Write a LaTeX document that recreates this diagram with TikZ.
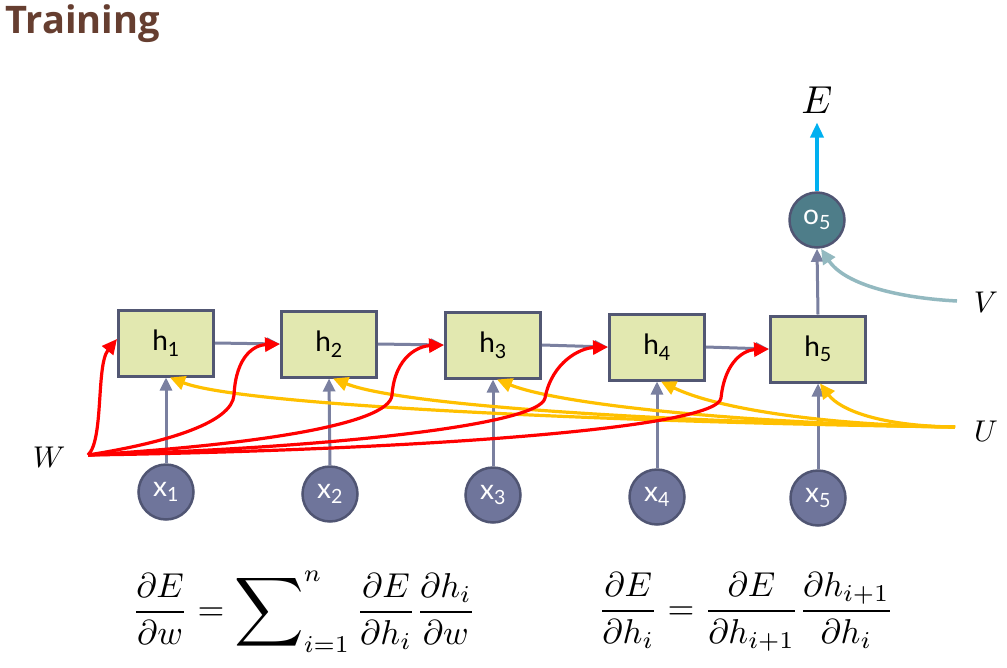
\documentclass[tikz,border=0pt]{standalone}
\usepackage{fontspec}
\usepackage{amsmath}
\usepackage{graphicx}
\setsansfont{Lato}
\newfontfamily\titlefont{Open Sans}
\usetikzlibrary{arrows.meta}
\definecolor{boxfill}{RGB}{226,232,176}
\definecolor{boxline}{RGB}{82,87,115}
\definecolor{circfill}{RGB}{111,117,155}
\definecolor{circline}{RGB}{80,85,115}
\definecolor{ofill}{RGB}{78,125,137}
\definecolor{grayarr}{RGB}{122,128,160}
\definecolor{redarr}{RGB}{255,0,0}
\definecolor{yelarr}{RGB}{255,192,0}
\definecolor{bluearr}{RGB}{0,176,240}
\definecolor{varr}{RGB}{147,185,192}
\definecolor{titlebrown}{RGB}{102,62,48}
\begin{document}
\begin{tikzpicture}[x=1pt,y=-1pt,
  hbox/.style={draw=boxline,fill=boxfill,line width=3pt,minimum width=95pt,minimum height=66pt,inner sep=0pt,font=\sffamily\fontsize{28}{32}\selectfont},
  xcirc/.style={circle,draw=circline,fill=circfill,line width=2.5pt,minimum size=55pt,inner sep=0pt,text=white,font=\sffamily\fontsize{28}{32}\selectfont},
  ocirc/.style={xcirc,fill=ofill},
  grayarrow/.style={draw=grayarr,line width=3pt,-{Triangle[length=13pt,width=12pt]}},
  redarrow/.style={draw=redarr,line width=3.2pt,-{Triangle[length=15pt,width=14pt]}},
  yelarrow/.style={draw=yelarr,line width=3.2pt,-{Triangle[length=15pt,width=14pt]}},
  bluearrow/.style={draw=bluearr,line width=3.5pt,-{Triangle[length=15pt,width=13pt]}},
  varrow/.style={draw=varr,line width=3.5pt,-{Triangle[length=15pt,width=14pt]}}
]
\useasboundingbox (0,0) rectangle (1007,667);

\node[anchor=west,text=titlebrown,font=\titlefont\bfseries\fontsize{38}{44}\selectfont] (title) at (2,24) {Training};

% hidden boxes
\node[hbox] (h1) at (166,343) {h\textsubscript{1}};
\node[hbox] (h2) at (329,344) {h\textsubscript{2}};
\node[hbox] (h3) at (493,345) {h\textsubscript{3}};
\node[hbox] (h4) at (657,347) {h\textsubscript{4}};
\node[hbox] (h5) at (818,349) {h\textsubscript{5}};

% inputs
\node[xcirc] (x1) at (166,492) {x\textsubscript{1}};
\node[xcirc] (x2) at (330,494) {x\textsubscript{2}};
\node[xcirc] (x3) at (493,495) {x\textsubscript{3}};
\node[xcirc] (x4) at (657,497) {x\textsubscript{4}};
\node[xcirc] (x5) at (818,498) {x\textsubscript{5}};

% output
\node[ocirc] (o5) at (817,220) {o\textsubscript{5}};
\node[inner sep=0pt] (E) at (817,100) {\scalebox{3.9}{$E$}};

% labels
\node[inner sep=0pt] (W) at (49,457) {\scalebox{3}{$W$}};
\node[inner sep=0pt] (U) at (986,431) {\scalebox{3}{$U$}};
\node[inner sep=0pt] (V) at (986,302) {\scalebox{3}{$V$}};
\coordinate (Wp) at (88,455);
\coordinate (Up) at (955,427);
\coordinate (Vp) at (957,301);

% gray arrows
\foreach \i/\j in {1/2,2/3,3/4,4/5} {
  \draw[grayarrow] (h\i.east) -- (h\j.west);
}
\foreach \i in {1,...,5} {
  \draw[grayarrow] (x\i.north) -- (h\i.south);
}
\draw[grayarrow] (h5.north) -- (o5.south);

% E arrow
\draw[bluearrow] (o5.north) -- ([yshift=-9pt]E.south);

% V arrow
\draw[varrow] (Vp) .. controls (900,298) and (845,285) .. ([xshift=4pt]o5.south);

% U arrows
\draw[yelarrow] (Up) .. controls (600,422) and (240,405) .. ([xshift=4pt]h1.south);
\draw[yelarrow] (Up) .. controls (650,422) and (400,405) .. ([xshift=4pt]h2.south);
\draw[yelarrow] (Up) .. controls (750,424) and (560,405) .. ([xshift=4pt]h3.south);
\draw[yelarrow] (Up) .. controls (820,425) and (715,408) .. ([xshift=4pt]h4.south);
\draw[yelarrow] (Up) .. controls (880,426) and (840,410) .. ([xshift=2pt]h5.south);

% W arrows
\draw[redarrow] (Wp) .. controls (104,440) and (96,365) .. ([yshift=4pt]h1.west);
\draw[redarrow] (Wp) .. controls (170,442) and (232,422) .. (234,395) .. controls (236,355) and (255,345) .. (h2.west);
\draw[redarrow] (Wp) .. controls (250,445) and (390,425) .. (392,395) .. controls (395,355) and (420,346) .. (h3.west);
\draw[redarrow] (Wp) .. controls (330,448) and (540,425) .. (545,398) .. controls (552,362) and (580,348) .. (h4.west);
\draw[redarrow] (Wp) .. controls (420,450) and (718,428) .. (721,398) .. controls (725,360) and (745,350) .. (h5.west);

% equations
\node[inner sep=0pt] (eq1) at (304,612) {\scalebox{3.45}{$\displaystyle \frac{\partial E}{\partial w} = \mathop{\vcenter{\hbox{\scalebox{1.4}{$\displaystyle\sum$}}}}\nolimits_{i=1}^{n}\frac{\partial E}{\partial h_i}\frac{\partial h_i}{\partial w}$}};
\node[inner sep=0pt] (eq2) at (746,612) {\scalebox{3.45}{$\displaystyle \frac{\partial E}{\partial h_i} = \frac{\partial E}{\partial h_{i+1}}\frac{\partial h_{i+1}}{\partial h_i}$}};
\end{tikzpicture}
\end{document}
